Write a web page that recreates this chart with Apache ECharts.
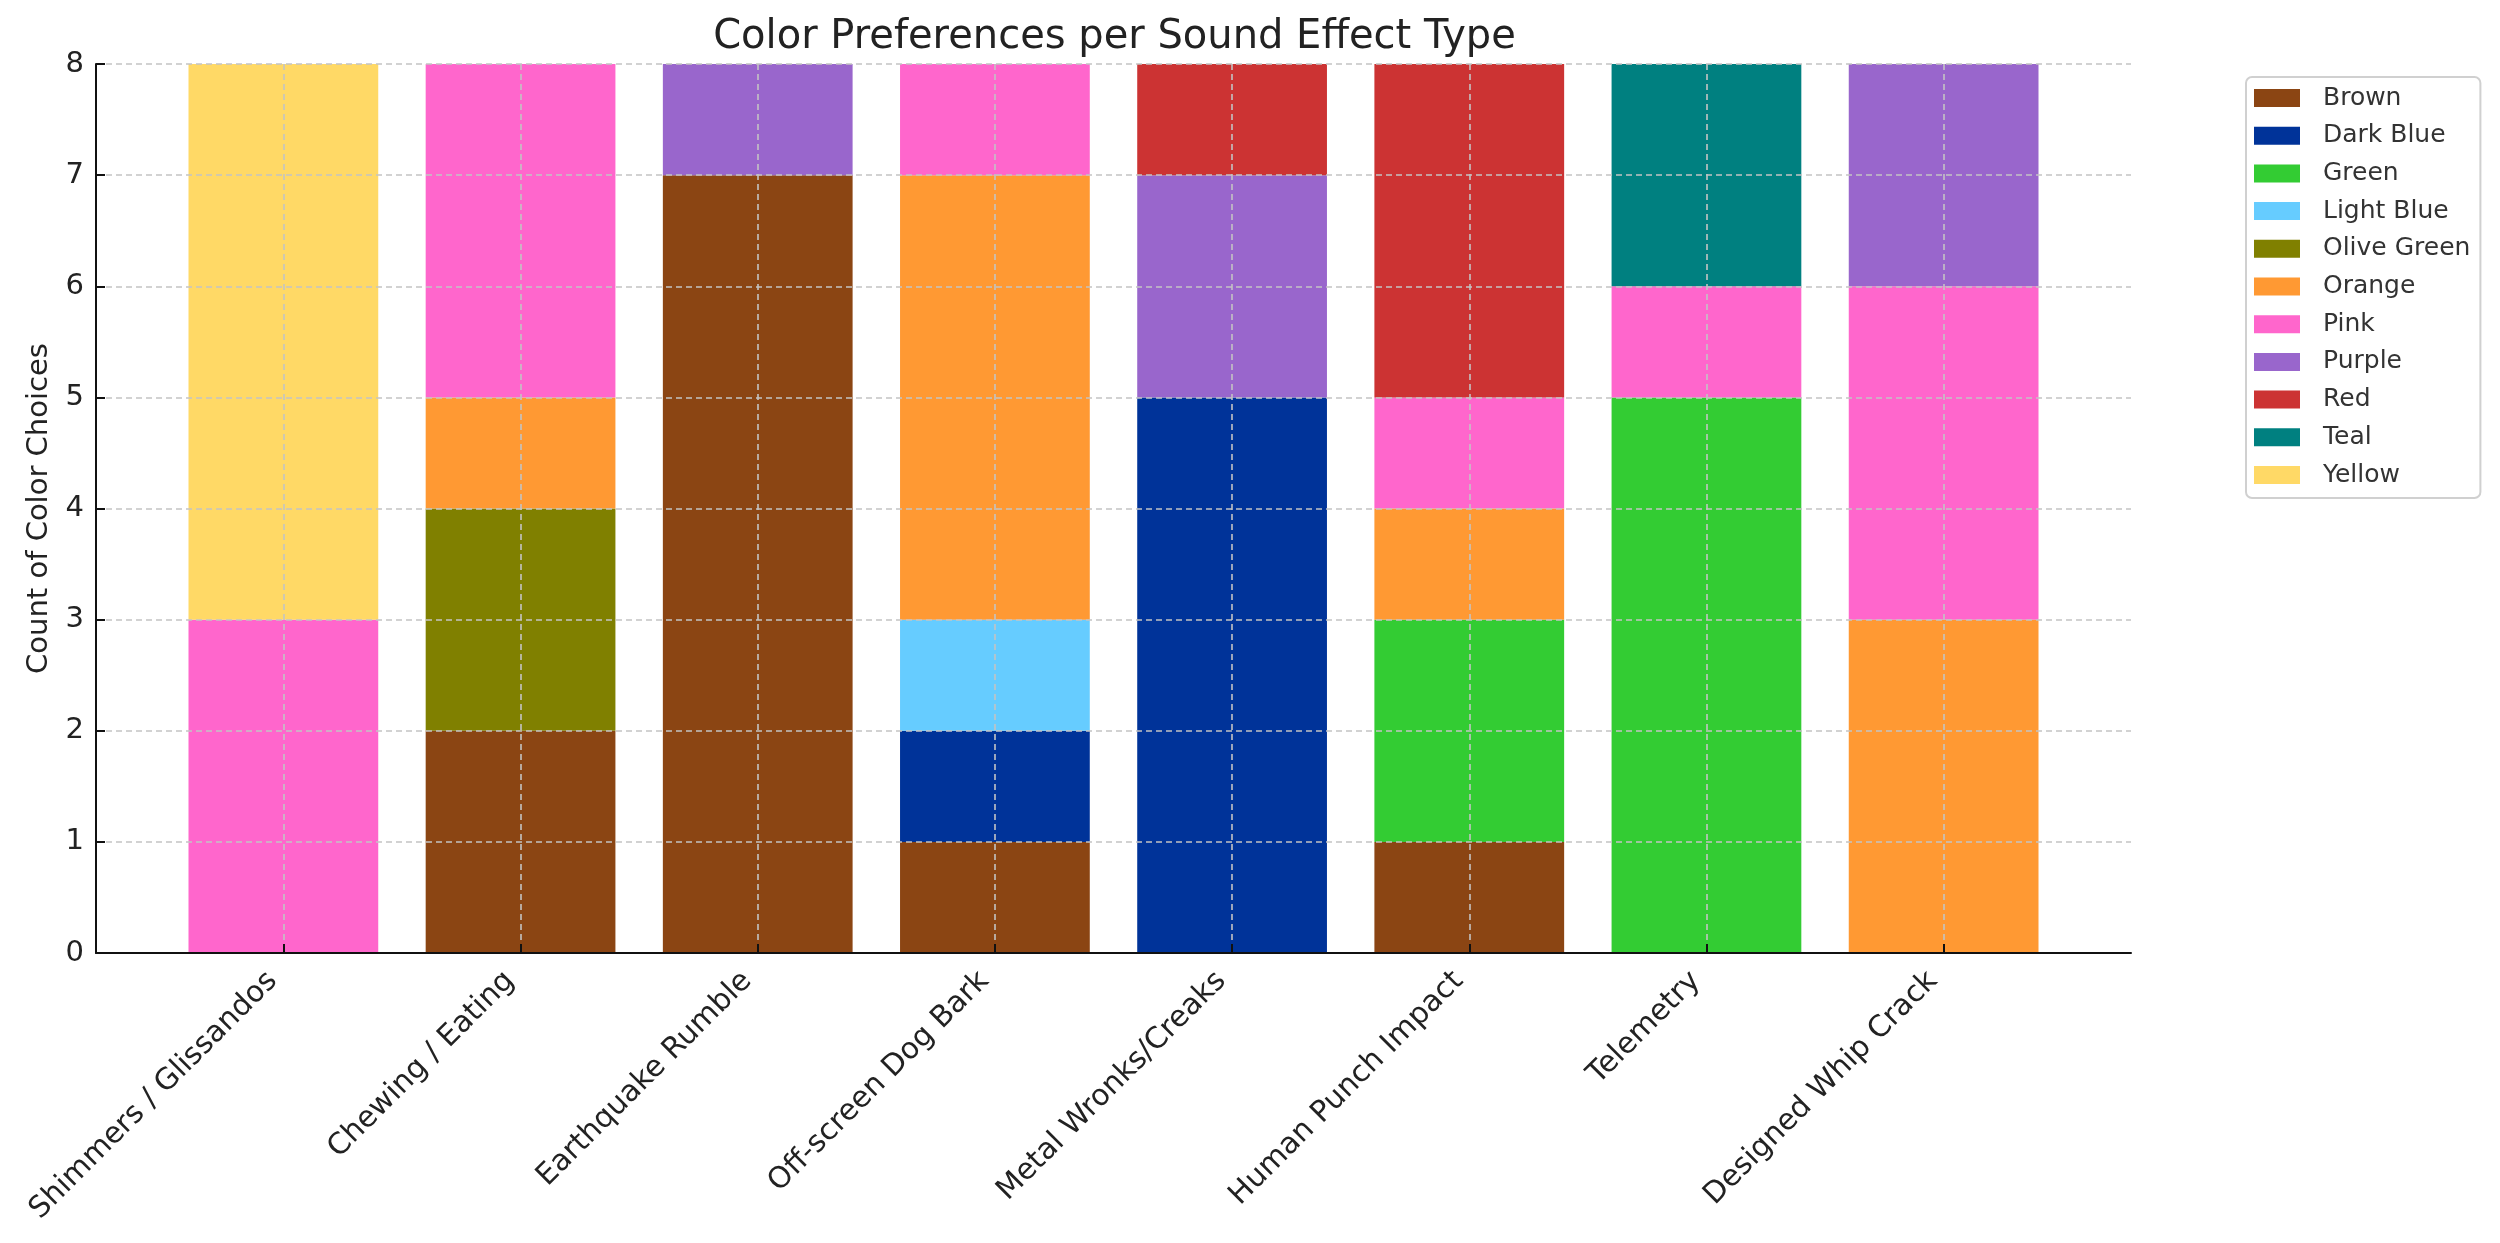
<!DOCTYPE html>
<html>
<head>
<meta charset="utf-8">
<title>Color Preferences per Sound Effect Type</title>
<script src="https://cdn.jsdelivr.net/npm/echarts@6/dist/echarts.min.js"></script>
<style>
  html, body { margin: 0; padding: 0; background: #fff; }
  #chart { width: 2500px; height: 1243px; }
</style>
</head>
<body>
<div id="chart"></div>
<script>
// sound effect types (x axis)
var categories = ['Shimmers / Glissandos', 'Chewing / Eating', 'Earthquake Rumble', 'Off-screen Dog Bark',
    'Metal Wronks/Creaks', 'Human Punch Impact', 'Telemetry', 'Designed Whip Crack'];

// colour names, stacked bottom to top in this order
var colorNames = ['Brown', 'Dark Blue', 'Green', 'Light Blue', 'Olive Green', 'Orange',
    'Pink', 'Purple', 'Red', 'Teal', 'Yellow'];
var swatches = ['#8B4513', '#003399', '#33CC33', '#66CCFF', '#808000', '#FF9933',
    '#FF66CC', '#9966CC', '#CC3333', '#008080', '#FFD966'];

// counts per colour, one value per category
var brown      = [0, 2, 7, 1, 0, 1, 0, 0];
var darkBlue   = [0, 0, 0, 1, 5, 0, 0, 0];
var green      = [0, 0, 0, 0, 0, 2, 5, 0];
var lightBlue  = [0, 0, 0, 1, 0, 0, 0, 0];
var oliveGreen = [0, 2, 0, 0, 0, 0, 0, 0];
var orange     = [0, 1, 0, 4, 0, 1, 0, 3];
var pink       = [3, 3, 0, 1, 0, 1, 1, 3];
var purple     = [0, 0, 1, 0, 2, 0, 0, 2];
var red        = [0, 0, 0, 0, 1, 3, 0, 0];
var teal       = [0, 0, 0, 0, 0, 0, 2, 0];
var yellow     = [5, 0, 0, 0, 0, 0, 0, 0];

var yTicks = [0, 1, 2, 3, 4, 5, 6, 7, 8];

var counts = [brown, darkBlue, green, lightBlue, oliveGreen, orange, pink, purple, red, teal, yellow];

var font = 'DejaVu Sans';
var gridLine = { show: true, lineStyle: { color: '#c4c4c4', width: 1.6, type: [6, 4] } };
var tickStyle = { show: true, inside: true, length: 9, lineStyle: { color: '#111', width: 2 } };

// outer frame spans the matplotlib-style x margins; the bars sit in an inner grid
// whose ends are the centres of the first and last category
var frameLeft = 96, frameRight = 2131;
var unit = (frameRight - frameLeft) / 8.58;
var innerLeft = frameLeft + 0.79 * unit;
var innerRight = innerLeft + 7 * unit;

var series = [];
for (var s = 0; s < colorNames.length; s++) {
    series.push({
        name: colorNames[s],
        type: 'bar',
        stack: 'total',
        xAxisIndex: 1,
        yAxisIndex: 1,
        barWidth: '80%',
        clip: false,
        itemStyle: { color: swatches[s] },
        emphasis: { disabled: true },
        data: counts[s]
    });
}

var myChart = echarts.init(document.getElementById('chart'));
var option = {
    animation: false,
    backgroundColor: '#ffffff',
    textStyle: { fontFamily: font },
    title: {
        text: 'Color Preferences per Sound Effect Type',
        left: (frameLeft + frameRight) / 2 - 4,
        textAlign: 'center',
        top: 13,
        textStyle: { fontFamily: font, fontSize: 40, fontWeight: 'normal', color: '#222' }
    },
    legend: {
        orient: 'vertical',
        left: 2246,
        top: 77,
        padding: [8, 10, 10, 8],
        itemWidth: 46,
        itemHeight: 18,
        itemGap: 11.7,
        icon: 'rect',
        borderColor: '#d0d0d0',
        borderWidth: 2,
        borderRadius: 6,
        data: colorNames,
        textStyle: { fontFamily: font, fontSize: 25, color: '#333', lineHeight: 26, padding: [0, 0, 0, 18] }
    },
    grid: [
        { left: frameLeft, right: 2500 - frameRight, top: 64, bottom: 290 },
        { left: innerLeft, right: 2500 - innerRight, top: 64, bottom: 290 }
    ],
    xAxis: [
        {
            gridIndex: 0,
            type: 'value',
            min: 0,
            max: 1,
            z: 8,
            axisLine: { show: true, onZero: false, lineStyle: { color: '#111', width: 2 } },
            axisTick: { show: false },
            axisLabel: { show: false },
            splitLine: { show: false }
        },
        {
            gridIndex: 1,
            type: 'category',
            boundaryGap: false,
            data: categories,
            z: 5,
            axisLine: { show: false },
            axisTick: tickStyle,
            axisLabel: {
                interval: 0,
                rotate: 45,
                margin: 34,
                verticalAlign: 'bottom',
                fontFamily: font,
                fontSize: 29.5,
                color: '#222'
            },
            splitLine: gridLine
        }
    ],
    yAxis: [
        {
            gridIndex: 0,
            type: 'value',
            min: 0,
            max: 8,
            interval: 1,
            z: 5,
            name: 'Count of Color Choices',
            nameLocation: 'middle',
            nameGap: 42,
            nameTextStyle: { fontFamily: font, fontSize: 29, color: '#222' },
            axisLine: { show: true, lineStyle: { color: '#111', width: 2 } },
            axisTick: tickStyle,
            axisLabel: {
                margin: 12,
                fontFamily: font,
                fontSize: 29,
                color: '#222',
                formatter: function (v) { return yTicks.indexOf(v) >= 0 ? String(v) : ''; }
            },
            splitLine: gridLine
        },
        {
            gridIndex: 1,
            type: 'value',
            min: 0,
            max: 8,
            show: false
        }
    ],
    series: series
};
myChart.setOption(option);
</script>
</body>
</html>
